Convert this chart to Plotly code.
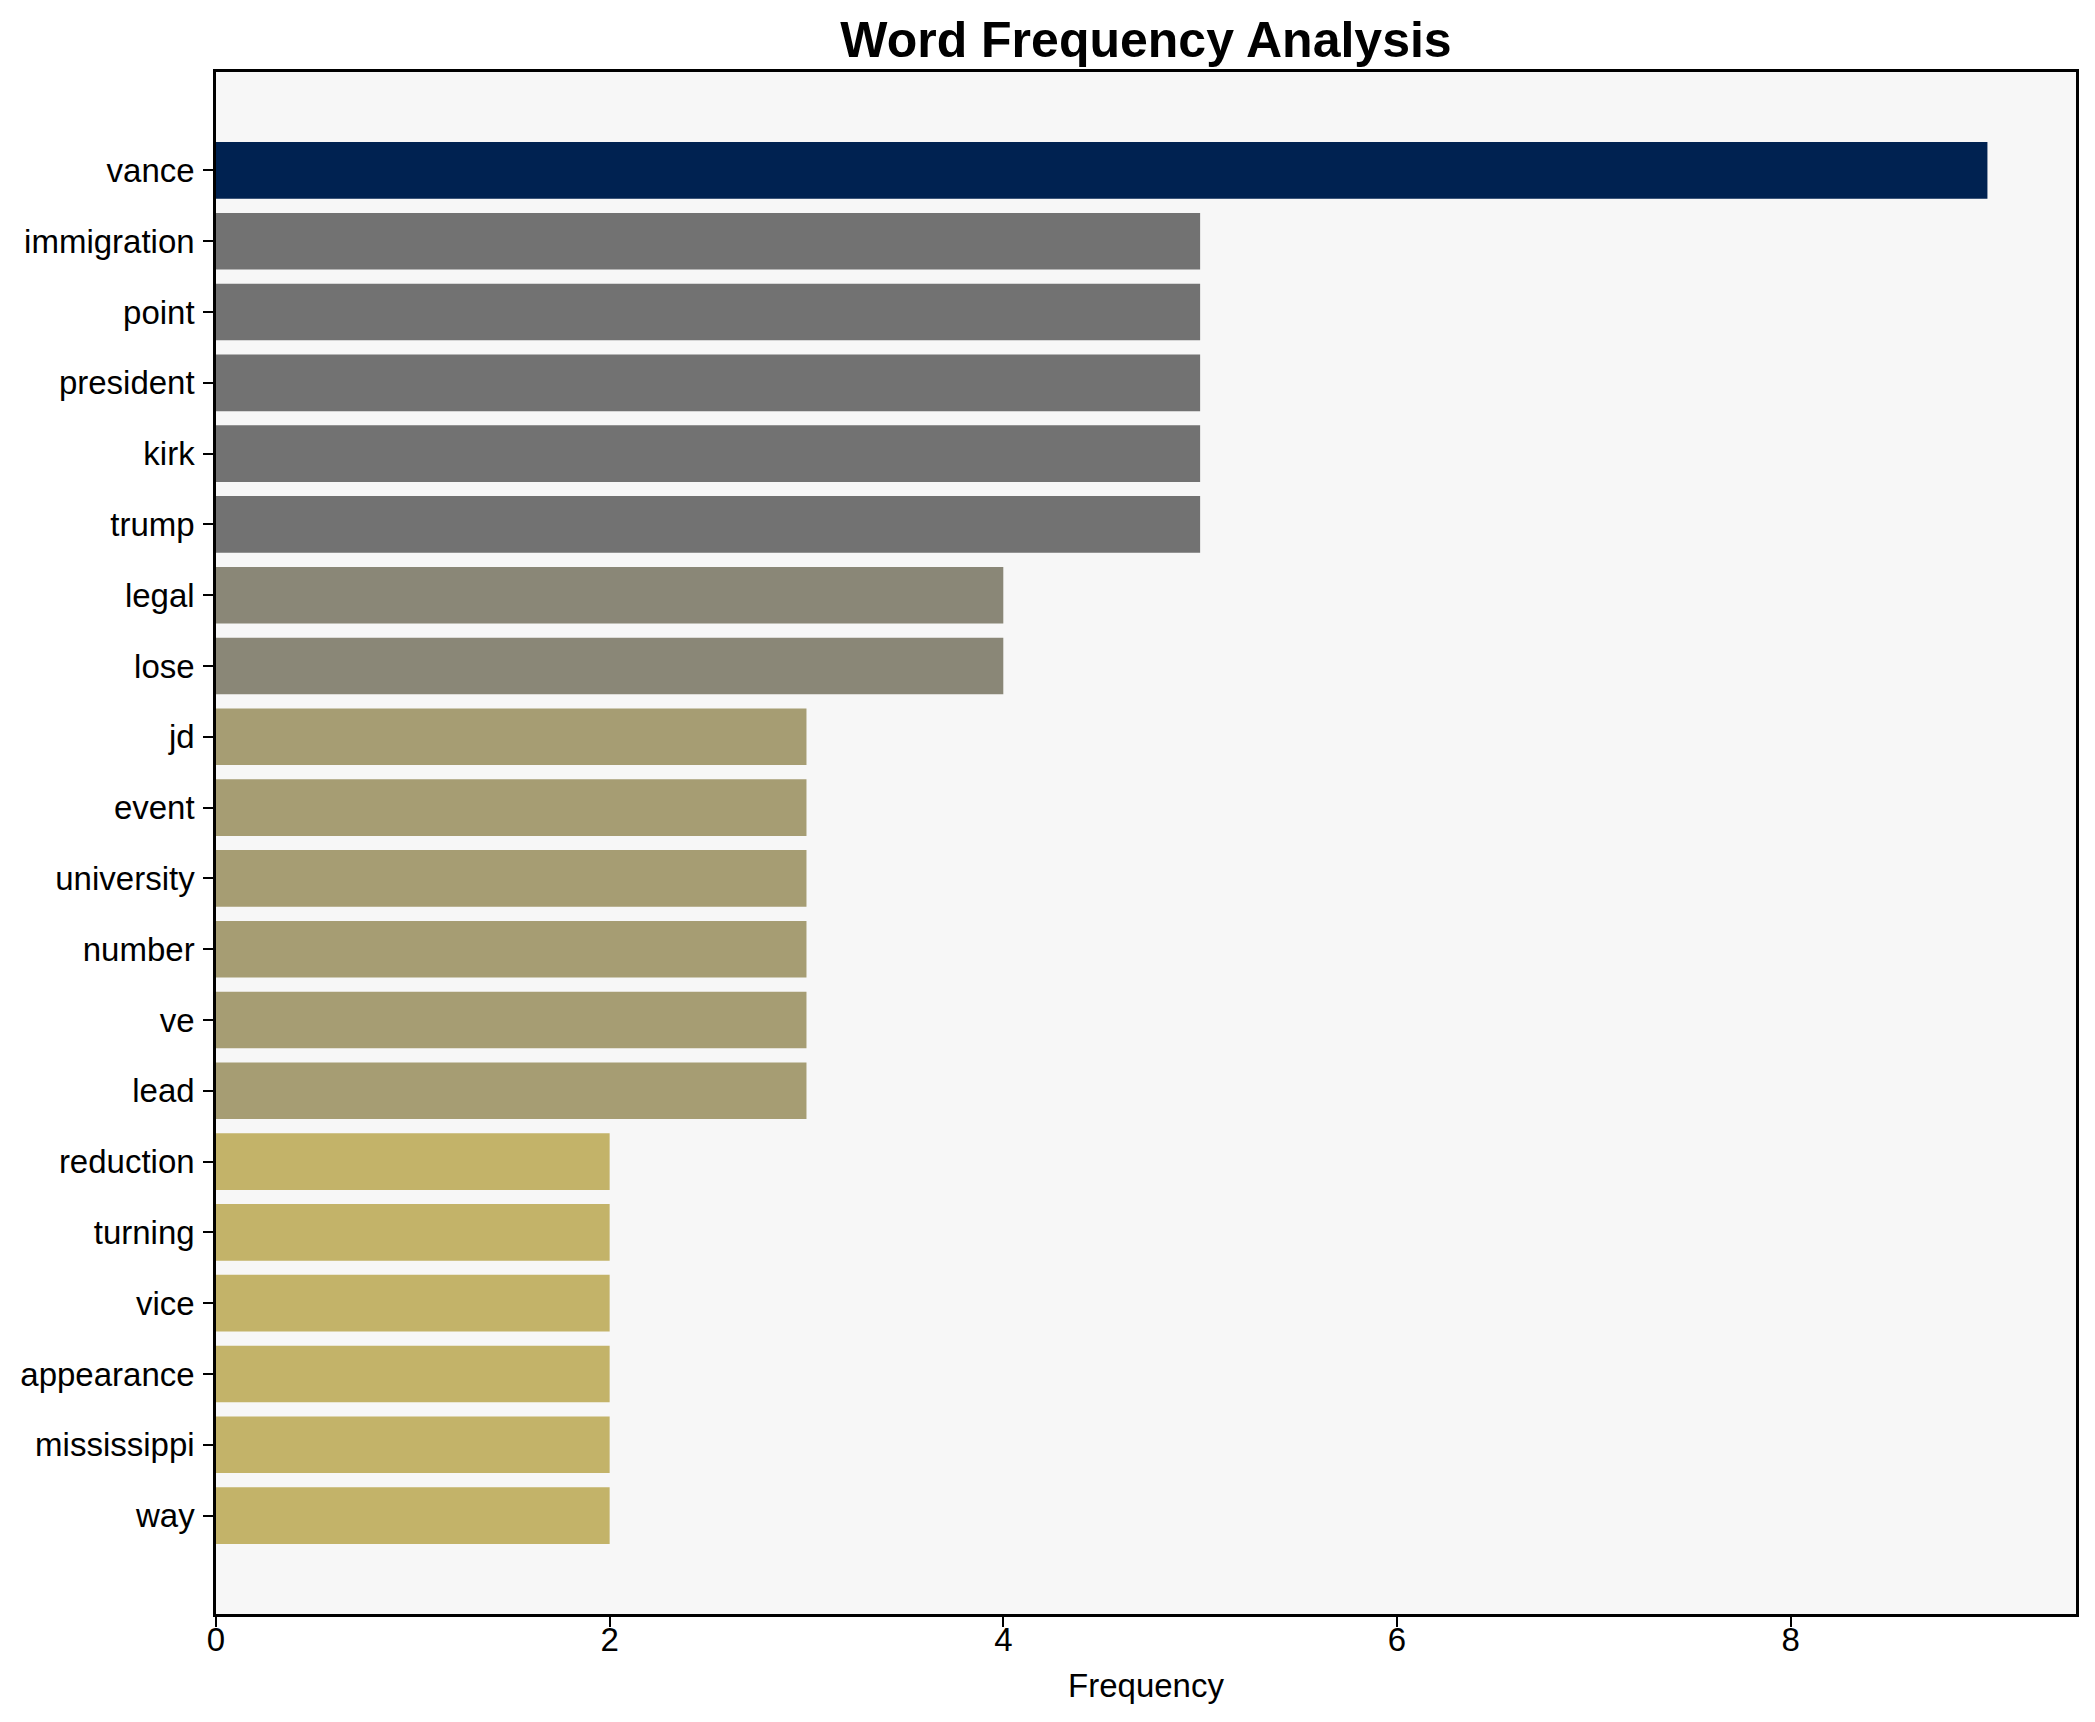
import plotly.graph_objects as go

words = ["vance", "immigration", "point", "president", "kirk", "trump", "legal", "lose",
         "jd", "event", "university", "number", "ve", "lead", "reduction", "turning",
         "vice", "appearance", "mississippi", "way"]
freqs = [9, 5, 5, 5, 5, 5, 4, 4, 3, 3, 3, 3, 3, 3, 2, 2, 2, 2, 2, 2]
color_by_freq = {9: "#002251", 5: "#727272", 4: "#8a8777", 3: "#a69d73", 2: "#c3b369"}
colors = [color_by_freq[f] for f in freqs]

W, H = 2095, 1722
L, R, T, B = 208, 2068, 64, 1606

fig = go.Figure(go.Bar(
    x=freqs, y=words, orientation="h",
    marker=dict(color=colors, line=dict(width=0)),
))

font = "Liberation Sans, Arial, sans-serif"
fig.update_layout(
    width=W, height=H,
    margin=dict(l=L, r=W - R, t=T, b=H - B, pad=0),
    paper_bgcolor="white", plot_bgcolor="#f7f7f7",
    bargap=0.2, showlegend=False,
    font=dict(family=font, size=33, color="black"),
    title=dict(text="<b>Word Frequency Analysis</b>", x=(L + R) / 2 / W, xanchor="center",
               y=1 - 31 / H, yanchor="middle", yref="container",
               font=dict(family=font, size=50, color="black")),
)
fig.update_xaxes(
    range=[0, 9.45], tickvals=[0, 2, 4, 6, 8], showgrid=False, zeroline=False,
    showline=True, mirror=True, linecolor="black", linewidth=2.5,
    ticks="outside", ticklen=10, tickwidth=2, tickcolor="black",
    tickfont=dict(size=33), ticklabelstandoff=-15,
    title=dict(text="Frequency", font=dict(size=33), standoff=17),
)
fig.update_yaxes(
    range=[19 + 1.39, -1.39], showgrid=False, zeroline=False,
    showline=True, mirror=True, linecolor="black", linewidth=2.5,
    ticks="outside", ticklen=10, tickwidth=2, tickcolor="black",
    tickfont=dict(size=33), ticklabelstandoff=2,
)

fig.write_html("out.html")
